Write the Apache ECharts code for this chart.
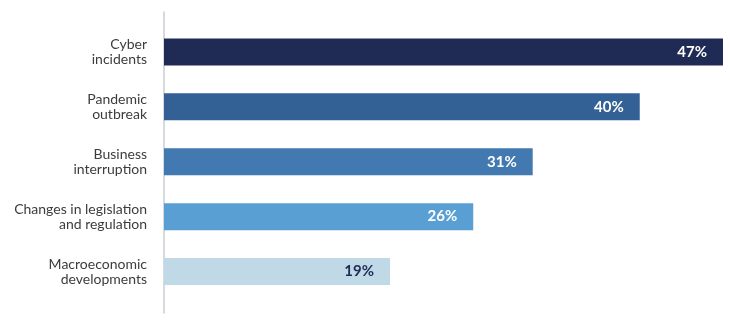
<!DOCTYPE html>
<html>
<head>
<meta charset="utf-8">
<script src="https://cdn.jsdelivr.net/npm/echarts@6/dist/echarts.min.js"></script>
<style>html,body{margin:0;padding:0;background:#fff;}#c{width:730px;height:323px;}</style>
</head>
<body>
<div id="c"></div>
<script>
const categories = ["Cyber\nincidents", "Pandemic\noutbreak", "Business\ninterruption", "Changes in legislation\nand regulation", "Macroeconomic\ndevelopments"];
const values = [47, 40, 31, 26, 19];
const barColors = ["#1f2b54", "#346195", "#4279b1", "#599fd3", "#c0d9e7"];
const labelColors = ["#ffffff", "#ffffff", "#ffffff", "#ffffff", "#1f2b54"];

const chart = echarts.init(document.getElementById('c'), null, {renderer: 'canvas'});
chart.setOption({
  animation: false,
  grid: [
    {left: 164, top: 24.5, width: 559, height: 274.5},
    {left: 164, top: 12, width: 559, height: 301}
  ],
  xAxis: [
    {type: 'value', gridIndex: 0, min: 0, max: 47, show: false},
    {type: 'value', gridIndex: 1, min: 0, max: 1, show: false}
  ],
  yAxis: [
    {
      type: 'category', gridIndex: 0, inverse: true, data: categories,
      axisLine: {show: false}, axisTick: {show: false},
      axisLabel: {margin: 17, color: '#3c3c3c', fontFamily: 'Lato', fontSize: 14, lineHeight: 15, align: 'right'}
    },
    {
      type: 'value', gridIndex: 1, min: 0, max: 1,
      axisLine: {show: true, lineStyle: {color: '#c8cdd3', width: 1.5}},
      axisTick: {show: false}, axisLabel: {show: false}, splitLine: {show: false}
    }
  ],
  series: [{
    type: 'bar', xAxisIndex: 0, yAxisIndex: 0,
    barWidth: 27,
    data: values.map((v, i) => ({
      value: v,
      itemStyle: {color: barColors[i]},
      label: {color: labelColors[i]}
    })),
    label: {
      show: true, position: 'insideRight', distance: 16,
      formatter: '{c}%', fontFamily: 'Lato', fontWeight: 'bold', fontSize: 15
    }
  }]
});
</script>
</body>
</html>
